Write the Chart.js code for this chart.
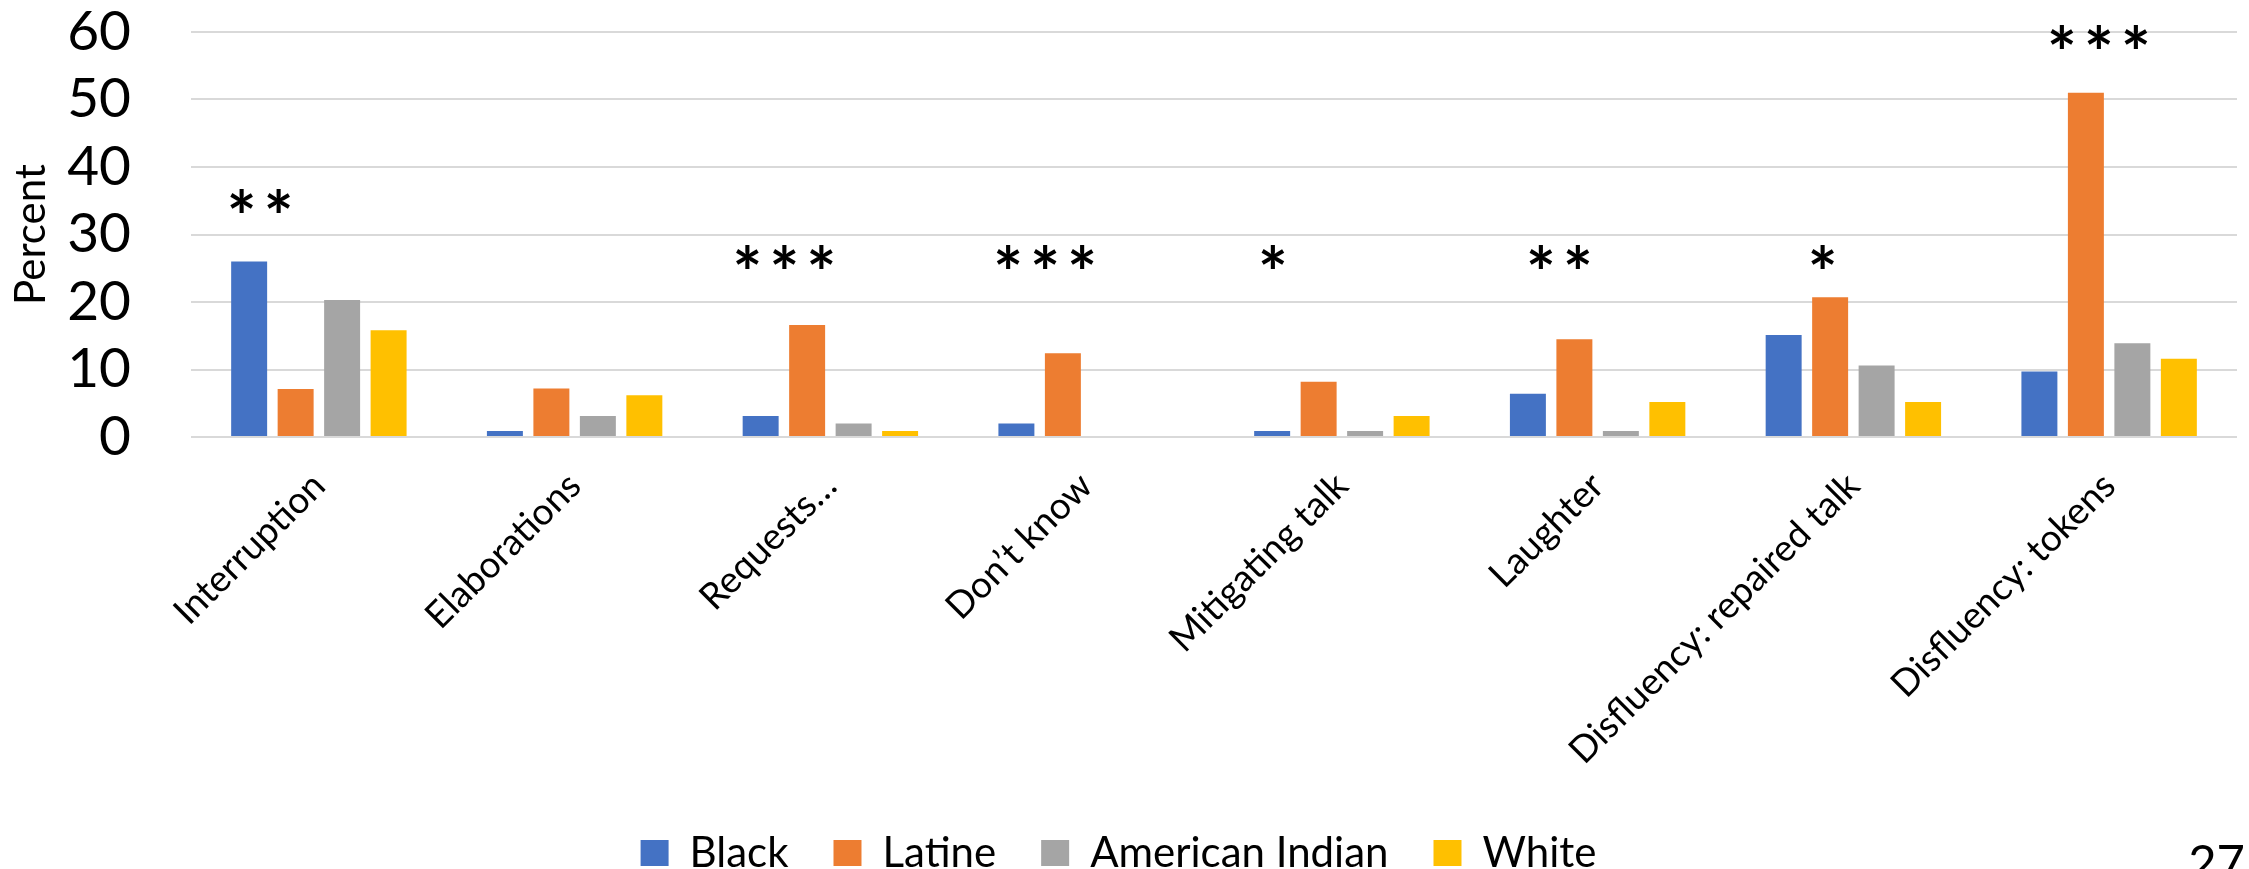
<!DOCTYPE html>
<html>
<head>
<meta charset="utf-8">
<script src="https://cdn.jsdelivr.net/npm/chart.js@4.4.1/dist/chart.umd.min.js"></script>
<style>
  html, body { margin: 0; padding: 0; background: #fff; overflow: hidden; }
  #wrap { width: 2249px; height: 869px; overflow: hidden; }
</style>
</head>
<body>
<div id="wrap"><canvas id="talkChart" width="2249" height="884"></canvas></div>
<script>
const categories = [
  "Interruption",
  "Elaborations",
  "Requests…",
  "Don’t know",
  "Mitigating talk",
  "Laughter",
  "Disfluency: repaired talk",
  "Disfluency: tokens",
];
const blackValues = [26.0, 0.9, 3.1, 2.0, 0.9, 6.4, 15.1, 9.7];
const latineValues = [7.1, 7.2, 16.6, 12.4, 8.2, 14.5, 20.7, 51.0];
const americanIndianValues = [20.3, 3.1, 2.0, 0, 0.9, 0.9, 10.6, 13.9];
const whiteValues = [15.8, 6.2, 0.9, 0, 3.1, 5.2, 5.2, 11.6];

// significance stars above each group (value = height on the Percent axis)
const significance = ["**", "", "***", "***", "*", "**", "*", "***"];
const markerHeights = [35, null, 26.8, 26.8, 26.8, 26.8, 26.8, 59.3];
const markerShifts = [-0.23, 0, -0.18, -0.16, -0.27, -0.15, -0.12, -0.04];
const pageNumber = "27";

Chart.defaults.font.family = "Lato";
Chart.defaults.color = "#000";

const significancePlugin = {
  id: "significance",
  afterDatasetsDraw(chart) {
    const { ctx, scales } = chart;
    const step = scales.x.getPixelForValue(1) - scales.x.getPixelForValue(0);
    ctx.save();
    ctx.fillStyle = "#000";
    ctx.font = "bold 70px Lato";
    ctx.textAlign = "center";
    ctx.textBaseline = "alphabetic";
    const m = ctx.measureText("*");
    const lift = (m.actualBoundingBoxAscent - m.actualBoundingBoxDescent) / 2;
    const gap = 37;

    significance.forEach((mark, i) => {
      if (!mark) {
        return;
      }
      const cx = scales.x.getPixelForValue(i) + markerShifts[i] * step;
      const cy = scales.y.getPixelForValue(markerHeights[i]);
      const startX = cx - ((mark.length - 1) * gap) / 2;
      for (let k = 0; k < mark.length; k++) {
        ctx.fillText("*", startX + k * gap, cy + lift);
      }
    });

    ctx.font = "49px Lato";
    ctx.textAlign = "right";
    ctx.textBaseline = "top";
    ctx.fillText(pageNumber, chart.width - 4, 840);
    ctx.restore();
  },
};

new Chart(document.getElementById("talkChart"), {
  type: "bar",
  data: {
    labels: categories,
    datasets: [
      { label: "Black", data: blackValues, backgroundColor: "#4472C4" },
      { label: "Latine", data: latineValues, backgroundColor: "#ED7D31" },
      { label: "American Indian", data: americanIndianValues, backgroundColor: "#A5A5A5" },
      { label: "White", data: whiteValues, backgroundColor: "#FFC000" },
    ],
  },
  options: {
    responsive: false,
    animation: false,
    devicePixelRatio: 1,
    categoryPercentage: 0.727,
    barPercentage: 0.774,
    layout: {
      padding: { top: 0, right: 12, left: 0, bottom: 0 },
    },
    plugins: {
      legend: {
        position: "bottom",
        labels: {
          boxWidth: 28,
          boxHeight: 26,
          padding: 45,
          font: { size: 42 },
        },
      },
      tooltip: { enabled: false },
    },
    scales: {
      x: {
        grid: { display: false },
        border: { display: false },
        ticks: {
          autoSkip: false,
          maxRotation: 45,
          minRotation: 45,
          padding: 19,
          font: { size: 37 },
        },
        afterFit: (scale) => {
          scale.height = 350;
        },
      },
      y: {
        min: 0,
        max: 60,
        border: { display: false },
        grid: { color: "#d9d9d9", lineWidth: 2, drawTicks: false },
        ticks: {
          autoSkip: false,
          stepSize: 10,
          padding: 60,
          font: { size: 55 },
        },
        title: {
          display: true,
          text: "Percent",
          font: { size: 42 },
          padding: { top: 6, bottom: 0 },
        },
        afterFit: (scale) => {
          scale.width = 191;
          scale.paddingTop = 32;
          scale.paddingBottom = 0;
        },
      },
    },
  },
  plugins: [significancePlugin],
});
</script>
</body>
</html>
